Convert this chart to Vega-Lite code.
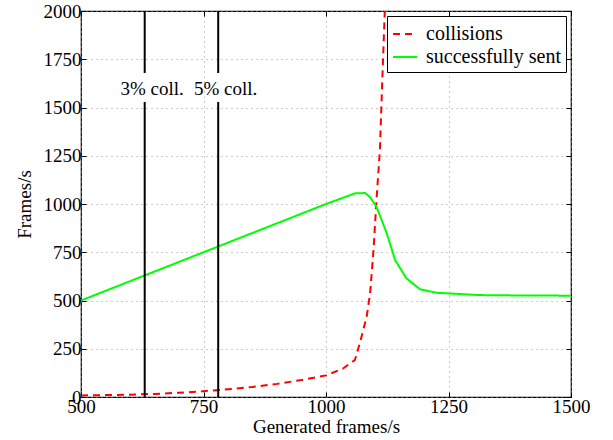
{
  "$schema": "https://vega.github.io/schema/vega-lite/v6.json",
  "width": 490,
  "height": 386,
  "autosize": "none",
  "padding": {"left": 81, "top": 11, "right": 42, "bottom": 43},
  "background": "white",
  "config": {
    "font": "Liberation Serif",
    "view": {"stroke": "black", "strokeWidth": 1.2},
    "axis": {
      "labelFont": "Liberation Serif",
      "titleFont": "Liberation Serif",
      "labelFontSize": 19,
      "titleFontSize": 19,
      "titleFontWeight": "normal",
      "labelColor": "black",
      "titleColor": "black",
      "labelFlush": false,
      "labelOverlap": false,
      "format": "d",
      "domain": false,
      "tickColor": "black",
      "tickSize": -5,
      "tickWidth": 1,
      "grid": true,
      "gridColor": "#999999",
      "gridDash": [1, 4],
      "gridWidth": 1
    }
  },
  "datasets": {
    "curves": [
      {"x": 500, "y": 8, "series": "collisions"},
      {"x": 550, "y": 10, "series": "collisions"},
      {"x": 600, "y": 12, "series": "collisions"},
      {"x": 650, "y": 16, "series": "collisions"},
      {"x": 700, "y": 22, "series": "collisions"},
      {"x": 750, "y": 30, "series": "collisions"},
      {"x": 800, "y": 40, "series": "collisions"},
      {"x": 850, "y": 52, "series": "collisions"},
      {"x": 900, "y": 68, "series": "collisions"},
      {"x": 950, "y": 88, "series": "collisions"},
      {"x": 1000, "y": 112, "series": "collisions"},
      {"x": 1035, "y": 148, "series": "collisions"},
      {"x": 1059, "y": 192, "series": "collisions"},
      {"x": 1069, "y": 278, "series": "collisions"},
      {"x": 1083, "y": 416, "series": "collisions"},
      {"x": 1090, "y": 537, "series": "collisions"},
      {"x": 1097, "y": 762, "series": "collisions"},
      {"x": 1103, "y": 1020, "series": "collisions"},
      {"x": 1110, "y": 1280, "series": "collisions"},
      {"x": 1115, "y": 1650, "series": "collisions"},
      {"x": 1120, "y": 2000, "series": "collisions"},
      {"x": 500, "y": 500, "series": "successfully sent"},
      {"x": 750, "y": 750, "series": "successfully sent"},
      {"x": 1000, "y": 1000, "series": "successfully sent"},
      {"x": 1059, "y": 1055, "series": "successfully sent"},
      {"x": 1080, "y": 1057, "series": "successfully sent"},
      {"x": 1090, "y": 1035, "series": "successfully sent"},
      {"x": 1103, "y": 986, "series": "successfully sent"},
      {"x": 1124, "y": 848, "series": "successfully sent"},
      {"x": 1141, "y": 710, "series": "successfully sent"},
      {"x": 1164, "y": 615, "series": "successfully sent"},
      {"x": 1192, "y": 558, "series": "successfully sent"},
      {"x": 1226, "y": 540, "series": "successfully sent"},
      {"x": 1314, "y": 528, "series": "successfully sent"},
      {"x": 1400, "y": 526, "series": "successfully sent"},
      {"x": 1500, "y": 525, "series": "successfully sent"}
    ],
    "rules": [
      {"x": 630, "y": 0, "y2": 1528},
      {"x": 630, "y": 1679, "y2": 2000},
      {"x": 780, "y": 0, "y2": 1528},
      {"x": 780, "y": 1679, "y2": 2000}
    ],
    "labels": [
      {"x": 645, "y": 1596, "text": "3% coll."},
      {"x": 795, "y": 1596, "text": "5% coll."}
    ]
  },
  "resolve": {"axis": {"x": "independent", "y": "independent"}},
  "layer": [
    {
      "data": {"name": "curves"},
      "mark": {"type": "line", "strokeWidth": 2, "clip": true},
      "encoding": {
        "x": {"field": "x", "type": "quantitative",
              "scale": {"domain": [500, 1500], "nice": false, "zero": false},
              "axis": {"title": "Generated frames/s", "values": [500, 750, 1000, 1250, 1500], "labelPadding": 5, "titlePadding": 1}},
        "y": {"field": "y", "type": "quantitative",
              "scale": {"domain": [0, 2000], "nice": false},
              "axis": {"title": "Frames/s", "values": [0, 250, 500, 750, 1000, 1250, 1500, 1750, 2000], "labelPadding": 5, "titlePadding": 9}},
        "color": {"field": "series", "type": "nominal",
                  "scale": {"domain": ["collisions", "successfully sent"], "range": ["#ff0000", "#00ff00"]},
                  "legend": {"title": null, "orient": "top-right", "offset": 5, "symbolType": "stroke", "symbolSize": 576, "symbolStrokeWidth": 2,
                             "labelFont": "Liberation Serif", "labelFontSize": 20, "labelColor": "black",
                             "fillColor": "white", "strokeColor": "black", "padding": 5, "rowPadding": 0, "labelOffset": 8}},
        "strokeDash": {"field": "series", "type": "nominal",
                       "scale": {"domain": ["collisions", "successfully sent"], "range": [[7, 5], [1, 0]]},
                       "legend": {"title": null, "orient": "top-right", "offset": 5, "symbolType": "stroke", "symbolSize": 576, "symbolStrokeWidth": 2,
                             "labelFont": "Liberation Serif", "labelFontSize": 20, "labelColor": "black",
                             "fillColor": "white", "strokeColor": "black", "padding": 5, "rowPadding": 0, "labelOffset": 8}}
      }
    },
    {
      "data": {"name": "rules"},
      "mark": {"type": "rule", "color": "black", "strokeWidth": 2},
      "encoding": {
        "x": {"field": "x", "type": "quantitative",
              "axis": {"orient": "top", "labels": false, "title": null, "grid": false, "values": [500, 750, 1000, 1250, 1500]}},
        "y": {"field": "y", "type": "quantitative",
              "axis": {"orient": "right", "labels": false, "title": null, "grid": false, "values": [0, 250, 500, 750, 1000, 1250, 1500, 1750, 2000]}},
        "y2": {"field": "y2"}
      }
    },
    {
      "data": {"name": "labels"},
      "mark": {"type": "text", "fontSize": 19, "font": "Liberation Serif", "color": "black", "align": "center", "baseline": "middle"},
      "encoding": {
        "x": {"field": "x", "type": "quantitative", "axis": null},
        "y": {"field": "y", "type": "quantitative", "axis": null},
        "text": {"field": "text"}
      }
    }
  ]
}
